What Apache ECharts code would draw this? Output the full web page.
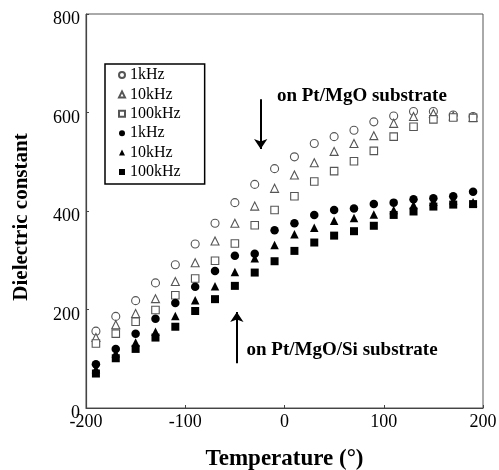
<!DOCTYPE html>
<html>
<head>
<meta charset="utf-8">
<script src="https://cdn.jsdelivr.net/npm/echarts@6/dist/echarts.min.js"></script>
<style>
  html, body { margin: 0; padding: 0; background: #fff; }
  #chart { width: 499px; height: 470px; }
</style>
</head>
<body>
<div id="chart"></div>
<script>
// Measurement temperatures (°C)
const temperatures = [-190, -170, -150, -130, -110, -90, -70, -50, -30, -10,
                      10, 30, 50, 70, 90, 110, 130, 150, 170, 190];

// Dielectric constant, film on Pt/MgO substrate
const mgo1k   = [156, 186, 218, 254, 291, 333, 375, 417, 454, 486, 510, 537, 551, 564, 581, 593, 602, 602, 595, 592];
const mgo10k  = [143, 169, 192, 222, 257, 295, 339, 375, 410, 446, 473, 498, 521, 537, 553, 578, 592, 598, 593, 590];
const mgo100k = [131, 151, 175, 199, 229, 263, 299, 334, 371, 402, 430, 460, 481, 501, 522, 551, 571, 586, 590, 589];

// Dielectric constant, film on Pt/MgO/Si substrate
const si1k    = [89, 120, 151, 181, 213, 246, 278, 309, 313, 361, 375, 392, 402, 405, 414, 417, 424, 426, 430, 439];
const si10k   = [79, 111, 133, 155, 187, 219, 247, 276, 304, 331, 353, 366, 380, 386, 393, 402, 412, 419, 422, 418];
const si100k  = [70, 101, 120, 143, 165, 197, 221, 248, 275, 298, 319, 336, 350, 359, 370, 392, 399, 409, 413, 414];

const xTicks = [-200, -100, 0, 100, 200];
const yTicks = [0, 200, 400, 600, 800];

const FONT = "'Liberation Serif', 'Times New Roman', serif";
const OPEN = '#555';

function pairs(vals) {
  return temperatures.map((t, i) => [t, vals[i]]);
}

function openSeries(name, symbol, size, vals) {
  return {
    type: 'scatter', name, symbol, symbolSize: size,
    data: pairs(vals),
    itemStyle: { color: '#fff', borderColor: OPEN, borderWidth: 1.1, opacity: 1 },
    emphasis: { disabled: true }
  };
}
function filledSeries(name, symbol, size, vals) {
  return {
    type: 'scatter', name, symbol, symbolSize: size,
    data: pairs(vals),
    itemStyle: { color: '#000', borderWidth: 0, opacity: 1 },
    emphasis: { disabled: true }
  };
}

const chart = echarts.init(document.getElementById('chart'), null, { renderer: 'canvas' });

const series = [
  openSeries('1kHz (Pt/MgO)', 'circle', 8, mgo1k),
  openSeries('10kHz (Pt/MgO)', 'triangle', 8, mgo10k),
  openSeries('100kHz (Pt/MgO)', 'rect', 7.5, mgo100k),
  filledSeries('1kHz (Pt/MgO/Si)', 'circle', 8.5, si1k),
  filledSeries('10kHz (Pt/MgO/Si)', 'triangle', 8.5, si10k),
  filledSeries('100kHz (Pt/MgO/Si)', 'rect', 8, si100k),
  // substrate annotations with their pointer arrows
  {
    type: 'scatter', name: 'annotations', data: [], silent: true,
    markPoint: {
      symbol: 'circle', symbolSize: 0, silent: true,
      label: {
        show: true, position: 'inside', color: '#000',
        fontFamily: FONT, fontWeight: 'bold', fontSize: 19,
        formatter: p => p.name
      },
      data: [
        { name: 'on Pt/MgO substrate', coord: [78, 634] },
        { name: 'on Pt/MgO/Si substrate', coord: [58, 117] }
      ]
    },
    markLine: {
      silent: true, symbol: ['none', 'arrow'], symbolSize: 10,
      label: { show: false },
      lineStyle: { color: '#000', width: 2, type: 'solid' },
      data: [
        [{ coord: [-24, 627] }, { coord: [-24, 526] }],
        [{ coord: [-48, 91] }, { coord: [-48, 195] }]
      ]
    }
  }
];

chart.setOption({
  animation: false,
  backgroundColor: '#fff',
  grid: {
    left: 86, top: 14, right: 16, bottom: 62,
    containLabel: false, outerBoundsMode: 'none',
    show: true, borderColor: '#555', borderWidth: 1, backgroundColor: 'transparent'
  },
  legend: {
    data: series.slice(0, 6).map(s => s.name),
    orient: 'vertical',
    left: 105, top: 64,
    padding: [3, 24, 4, 13],
    itemWidth: 6, itemHeight: 6, itemGap: 3.4,
    borderColor: '#000', borderWidth: 1.5,
    selectedMode: false,
    formatter: name => name.split(' ')[0],
    textStyle: { fontFamily: FONT, fontSize: 16, color: '#000', lineHeight: 16 }
  },
  xAxis: {
    type: 'value', min: -200, max: 200, interval: 100,
    name: 'Temperature (°)', nameLocation: 'middle', nameGap: 40,
    nameTextStyle: { fontFamily: FONT, fontWeight: 'bold', fontSize: 23, color: '#000' },
    axisLine: { show: true, onZero: false, lineStyle: { color: '#444', width: 1.2 } },
    axisTick: { show: true, inside: true, length: 3, lineStyle: { color: '#444' } },
    axisLabel: {
      fontFamily: FONT, fontSize: 18, color: '#000', margin: 5,
      customValues: xTicks, formatter: v => String(v)
    },
    splitLine: { show: false }
  },
  yAxis: {
    type: 'value', min: 0, max: 800, interval: 200,
    name: 'Dielectric constant', nameLocation: 'middle', nameGap: 54,
    nameTextStyle: { fontFamily: FONT, fontWeight: 'bold', fontSize: 21, color: '#000', padding: [0, 12, 0, 0] },
    axisLine: { show: true, onZero: false, lineStyle: { color: '#444', width: 1.2 } },
    axisTick: { show: true, inside: true, length: 3, lineStyle: { color: '#444' } },
    axisLabel: {
      fontFamily: FONT, fontSize: 18, color: '#000', margin: 6,
      customValues: yTicks, formatter: v => String(v),
      verticalAlign: 'top', lineHeight: 11
    },
    splitLine: { show: false }
  },
  series
});
</script>
</body>
</html>
